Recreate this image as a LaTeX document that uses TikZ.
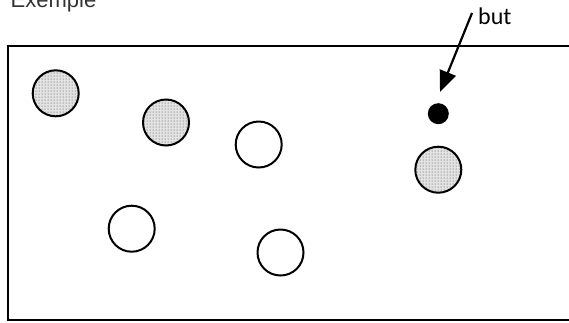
\documentclass[tikz,border=0pt]{standalone}
\usepackage{fontspec}
\setmainfont{Liberation Sans}
\newfontfamily\butfont{Carlito}
\usetikzlibrary{patterns,arrows.meta}
\begin{document}
\begin{tikzpicture}[x=1pt,y=-1pt,
  ball/.style={circle,draw=black,line width=2pt,minimum size=46pt,inner sep=0pt},
  shaded/.style={ball,preaction={fill=gray!22},pattern=dots,pattern color=black!75},
  open/.style={ball,fill=white},
  goal/.style={circle,fill=black,minimum size=21pt,inner sep=0pt},
  lbl/.style={inner sep=0pt,anchor=base west}]
\useasboundingbox (0,0) rectangle (569,322);
\draw[line width=2.4pt] (8,45.7) rectangle (580,320.2);
\node[lbl,text=black!80,font=\fontsize{22}{26}\selectfont] (ex) at (10.5,7.5) {Exemple};
\node[lbl,font=\butfont\fontsize{24}{28}\selectfont] (but) at (478,24) {but};
\node[shaded] (c1) at (55.7,93.3) {};
\node[shaded] (c2) at (166,122.5) {};
\node[open] (c3) at (258.7,144.5) {};
\node[open] (c4) at (131.7,228.7) {};
\node[open] (c5) at (280.5,252.5) {};
\node[shaded] (c6) at (438.3,169.7) {};
\node[goal] (dot) at (438.3,113.7) {};
\coordinate (s) at (472,13);
\coordinate (t) at (440,92);
\draw[line width=2.2pt,-{Triangle[length=21pt,width=17pt]}] (s) -- (t);
\end{tikzpicture}
\end{document}
